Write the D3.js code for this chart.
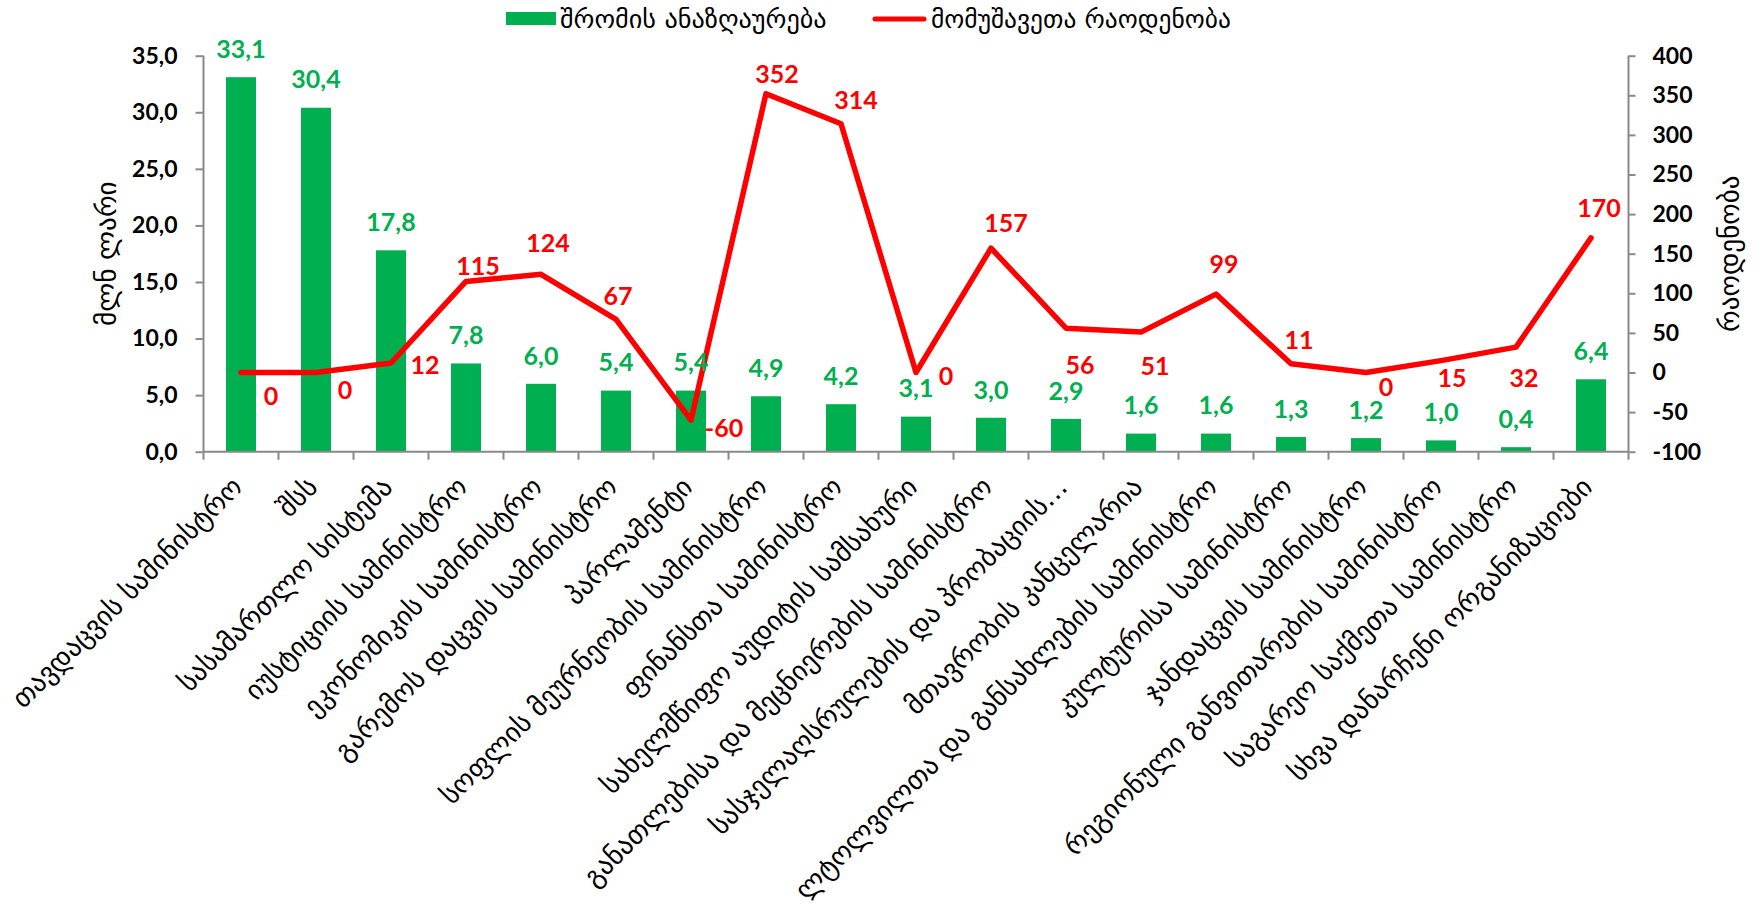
<!DOCTYPE html>
<html>
<head>
<meta charset="utf-8">
<script src="https://cdn.jsdelivr.net/npm/d3@7"></script>
<style>
  html, body { margin: 0; padding: 0; background: #fff; }
  svg { display: block; }
</style>
</head>
<body>
<svg id="chart" width="1758" height="910"></svg>
<script>
// ---- data ----
const categories = [
  "თავდაცვის სამინისტრო",
  "შსს",
  "სასამართლო სისტემა",
  "იუსტიციის სამინისტრო",
  "ეკონომიკის სამინისტრო",
  "გარემოს დაცვის სამინისტრო",
  "პარლამენტი",
  "სოფლის მეურნეობის სამინისტრო",
  "ფინანსთა სამინისტრო",
  "სახელმწიფო აუდიტის სამსახური",
  "განათლებისა და მეცნიერების სამინისტრო",
  "სასჯელაღსრულების და პრობაციის…",
  "მთავრობის კანცელარია",
  "ლტოლვილთა და განსახლების სამინისტრო",
  "კულტურისა სამინისტრო",
  "ჯანდაცვის სამინისტრო",
  "რეგიონული განვითარების სამინისტრო",
  "საგარეო საქმეთა სამინისტრო",
  "სხვა დანარჩენი ორგანიზაციები"
];
const wages = [33.1, 30.4, 17.8, 7.8, 6.0, 5.4, 5.4, 4.9, 4.2, 3.1, 3.0, 2.9, 1.6, 1.6, 1.3, 1.2, 1.0, 0.4, 6.4];
const employees = [0, 0, 12, 115, 124, 67, -60, 352, 314, 0, 157, 56, 51, 99, 11, 0, 15, 32, 170];
const leftTicks = [0, 5, 10, 15, 20, 25, 30, 35];
const rightTicks = [-100, -50, 0, 50, 100, 150, 200, 250, 300, 350, 400];
const seriesNames = ["შრომის ანაზღაურება", "მომუშავეთა რაოდენობა"];
const axisTitles = ["მლნ ლარი", "რაოდენობა"];

// label placement offsets for the line labels (dx, dy from point)
const lineLabelOffsets = [
  [30, 24], [29, 18], [34, 2], [12, -15], [7, -31], [2, -23], [33, 8], [11, -19],
  [15, -24], [30, 4], [15, -25], [14, 37], [14, 34], [8, -30], [8, -24], [20, 15],
  [11, 18], [8, 31], [8, -30]
];

// ---- layout ----
const GREEN = "#00B050", RED = "#FF0000", AXIS = "#898989";
const geoFont = "'DejaVu Sans', sans-serif";
const numFont = "Lato, 'Open Sans', sans-serif";
const plot = { left: 203.5, right: 1628.5, top: 55.7, bottom: 451.7 };

const svg = d3.select("#chart");

const xStep = d3.scaleBand().domain(categories).range([plot.left, plot.right]);
const cx = c => xStep(c) + xStep.step() / 2;
const yL = d3.scaleLinear().domain([0, 35]).range([plot.bottom, plot.top]);
const yR = d3.scaleLinear().domain([-100, 400]).range([plot.bottom, plot.top]);

// fit Georgian font size
const probe = svg.append("text").attr("font-family", geoFont).attr("font-size", 100).text(seriesNames[1]);
const w100 = probe.node().getComputedTextLength();
probe.remove();
const geoSize = 100 * 300 / w100;
const labelSize = geoSize * 1.07;

// bars
svg.append("g").selectAll("rect").data(wages).join("rect")
  .attr("x", (d, i) => cx(categories[i]) - 15)
  .attr("width", 30)
  .attr("y", d => yL(d))
  .attr("height", d => yL(0) - yL(d))
  .attr("fill", GREEN);

// axes
const leftAxis = d3.axisLeft(yL).tickValues(leftTicks).tickSize(8).tickPadding(18)
  .tickFormat(d => d3.format(".1f")(d).replace(".", ","));
const gL = svg.append("g").attr("transform", `translate(${plot.left},0)`).call(leftAxis);
const rightAxis = d3.axisRight(yR).tickValues(rightTicks).tickSize(7).tickPadding(17).tickFormat(d => d);
const gR = svg.append("g").attr("transform", `translate(${plot.right},0)`).call(rightAxis);
[gL, gR].forEach(g => {
  g.select(".domain").attr("stroke", AXIS).attr("stroke-width", 2);
  g.selectAll(".tick line").attr("stroke", AXIS).attr("stroke-width", 2);
  g.selectAll(".tick text").attr("font-family", numFont).attr("font-weight", 700)
    .attr("font-size", 23).attr("fill", "#000");
});
gL.select(".domain").attr("d", `M0,${plot.top}V${plot.bottom}`);
gR.select(".domain").attr("d", `M0,${plot.top}V${plot.bottom}`);

// x axis
const gX = svg.append("g");
gX.append("line").attr("x1", plot.left).attr("x2", plot.right)
  .attr("y1", plot.bottom).attr("y2", plot.bottom).attr("stroke", AXIS).attr("stroke-width", 2);
const boundaries = categories.map(c => xStep(c)).concat([plot.right]);
gX.selectAll("line.tk").data(boundaries).join("line").attr("class", "tk")
  .attr("x1", d => d).attr("x2", d => d).attr("y1", plot.bottom).attr("y2", plot.bottom + 8)
  .attr("stroke", AXIS).attr("stroke-width", 2);
gX.selectAll("text").data(categories).join("text")
  .attr("transform", d => `translate(${cx(d) + 3},${plot.bottom + 37}) rotate(-45)`)
  .attr("text-anchor", "end")
  .attr("font-family", geoFont).attr("font-size", labelSize).attr("fill", "#000")
  .text(d => d);

// line
const lineGen = d3.line()
  .x((d, i) => cx(categories[i]))
  .y(d => yR(d));
svg.append("path").datum(employees).attr("d", lineGen)
  .attr("fill", "none").attr("stroke", RED).attr("stroke-width", 5.5)
  .attr("stroke-linejoin", "round").attr("stroke-linecap", "round");

// bar labels
svg.append("g").selectAll("text").data(wages).join("text")
  .attr("x", (d, i) => cx(categories[i]))
  .attr("y", d => yL(d) - 28)
  .attr("dy", "0.35em")
  .attr("text-anchor", "middle")
  .attr("font-family", numFont).attr("font-weight", 700).attr("font-size", 25)
  .attr("fill", GREEN)
  .text(d => d3.format(".1f")(d).replace(".", ","));

// line labels
svg.append("g").selectAll("text").data(employees).join("text")
  .attr("x", (d, i) => cx(categories[i]) + lineLabelOffsets[i][0])
  .attr("y", (d, i) => yR(d) + lineLabelOffsets[i][1])
  .attr("dy", "0.35em")
  .attr("text-anchor", "middle")
  .attr("font-family", numFont).attr("font-weight", 700).attr("font-size", 25)
  .attr("fill", RED)
  .text(d => d);

// axis titles
svg.append("text")
  .attr("transform", `translate(106,${(plot.top + plot.bottom) / 2}) rotate(-90)`)
  .attr("text-anchor", "middle").attr("dy", "0.35em")
  .attr("font-family", geoFont).attr("font-size", labelSize).attr("fill", "#000")
  .text(axisTitles[0]);
svg.append("text")
  .attr("transform", `translate(1729,${(plot.top + plot.bottom) / 2}) rotate(-90)`)
  .attr("text-anchor", "middle").attr("dy", "0.35em")
  .attr("font-family", geoFont).attr("font-size", labelSize).attr("fill", "#000")
  .text(axisTitles[1]);

// legend
const lg = svg.append("g");
lg.append("rect").attr("x", 506).attr("y", 12).attr("width", 50).attr("height", 13).attr("fill", GREEN);
lg.append("text").attr("x", 560).attr("y", 19).attr("dy", "0.35em")
  .attr("font-family", geoFont).attr("font-size", geoSize * 1.03).attr("fill", "#000").text(seriesNames[0]);
lg.append("line").attr("x1", 875).attr("x2", 924).attr("y1", 19).attr("y2", 19)
  .attr("stroke", RED).attr("stroke-width", 5).attr("stroke-linecap", "round");
lg.append("text").attr("x", 931).attr("y", 19).attr("dy", "0.35em")
  .attr("font-family", geoFont).attr("font-size", geoSize).attr("fill", "#000").text(seriesNames[1]);
</script>
</body>
</html>
